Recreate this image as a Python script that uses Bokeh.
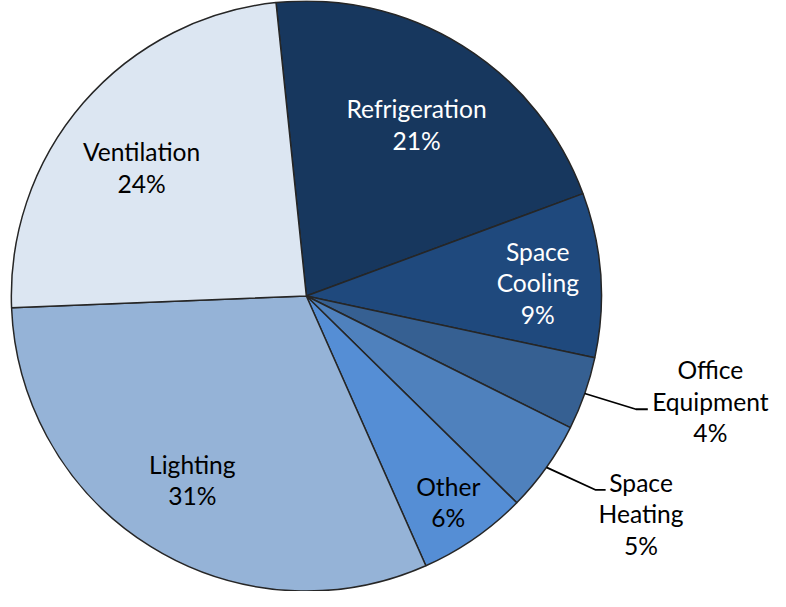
import math
from bokeh.plotting import figure
from bokeh.models import Range1d, ColumnDataSource
from bokeh.core.properties import value
from bokeh.embed import file_html
from bokeh.resources import INLINE

# ---- data ----
categories = ["Refrigeration", "Space Cooling", "Office Equipment", "Space Heating",
              "Other", "Lighting", "Ventilation"]
shares = [21, 9, 4, 5, 6, 31, 24]
label_lines = [["Refrigeration"], ["Space", "Cooling"], ["Office", "Equipment"],
               ["Space", "Heating"], ["Other"], ["Lighting"], ["Ventilation"]]
colors = ["#17375E", "#1F497D", "#366092", "#4F81BD", "#558ED5", "#95B3D7", "#DCE6F2"]
text_colors = ["white", "white", "black", "black", "black", "black", "black"]

# ---- layout ----
W, H = 770, 591
S = 0.985                                 # overall scale so the whole pie fits
AX, AY = 2.0, 4.0                          # visible window origin (reference px)
CX, CY, R = 312.5, 304.0, 299.5           # reference px
START_DEG = -5.9                          # clockwise from 12 o'clock
LINE_GAP = 32
FONT = "Lato"
FONT_SIZE = "24.6px"
inside = {
    "Refrigeration": (207, 2.5, 1.8),
    "Space Cooling": (235, 0.6, 3.2),
    "Other": (254, -0.5, 0.5),
    "Lighting": (220, 0.5, 0.0),
    "Ventilation": (212, -7.0, 8.4),
}
outside = {
    "Office Equipment": ((52, 16), 12, (63.5, -8)),
    "Space Heating": ((50, 23), 10, (36, 24)),
}

def sy(y):
    return -y

p = figure(width=W, height=H, x_range=Range1d(AX, AX + W / S),
           y_range=Range1d(-(AY + H / S), -AY),
           output_backend="svg", toolbar_location=None, x_axis_location=None,
           y_axis_location=None, min_border=0)
p.outline_line_color = None
p.xgrid.visible = False
p.ygrid.visible = False
p.background_fill_color = "white"

total = sum(shares)
starts, ends, mids = [], [], []
acc = START_DEG
for s in shares:
    a0 = acc
    a1 = acc + 360.0 * s / total
    starts.append(math.radians(90 - a0))
    ends.append(math.radians(90 - a1))
    mids.append((a0 + a1) / 2)
    acc = a1

src = ColumnDataSource(dict(cat=categories, start=starts, end=ends, color=colors))
p.wedge(x=CX, y=sy(CY), radius=R, start_angle="start", end_angle="end", direction="clock",
        fill_color="color", line_color="#262626", line_width=1.5, source=src)

tx, ty, tt, tc = [], [], [], []
for cat, share, lines, tcol, m in zip(categories, shares, label_lines, text_colors, mids):
    rad = math.radians(m)
    all_lines = lines + [f"{share}%"]
    if cat in inside:
        r, nx, ny = inside[cat]
        bx = CX + r * math.sin(rad) + nx
        by = CY - r * math.cos(rad) + ny
    else:
        (ex, ey), run, (lx, ly) = outside[cat]
        px = CX + R * math.sin(rad)
        py = CY - R * math.cos(rad)
        elx, ely = px + ex, py + ey
        endx = elx + run
        p.line([px, elx, endx], [sy(py), sy(ely), sy(ely)], line_color="black", line_width=1.8)
        bx = endx + lx
        by = ely + ly
    n = len(all_lines)
    for i, t in enumerate(all_lines):
        cyl = by + (i - (n - 1) / 2) * LINE_GAP
        tx.append(bx)
        ty.append(sy(cyl))
        tt.append(t)
        tc.append(tcol)

tsrc = ColumnDataSource(dict(x=tx, y=ty, text=tt, color=tc))
p.text(x="x", y="y", text="text", text_color="color", source=tsrc,
       text_font=value(FONT), text_font_size=FONT_SIZE, text_align="center",
       text_baseline="middle")

open("out.html", "w").write(file_html(p, INLINE))
